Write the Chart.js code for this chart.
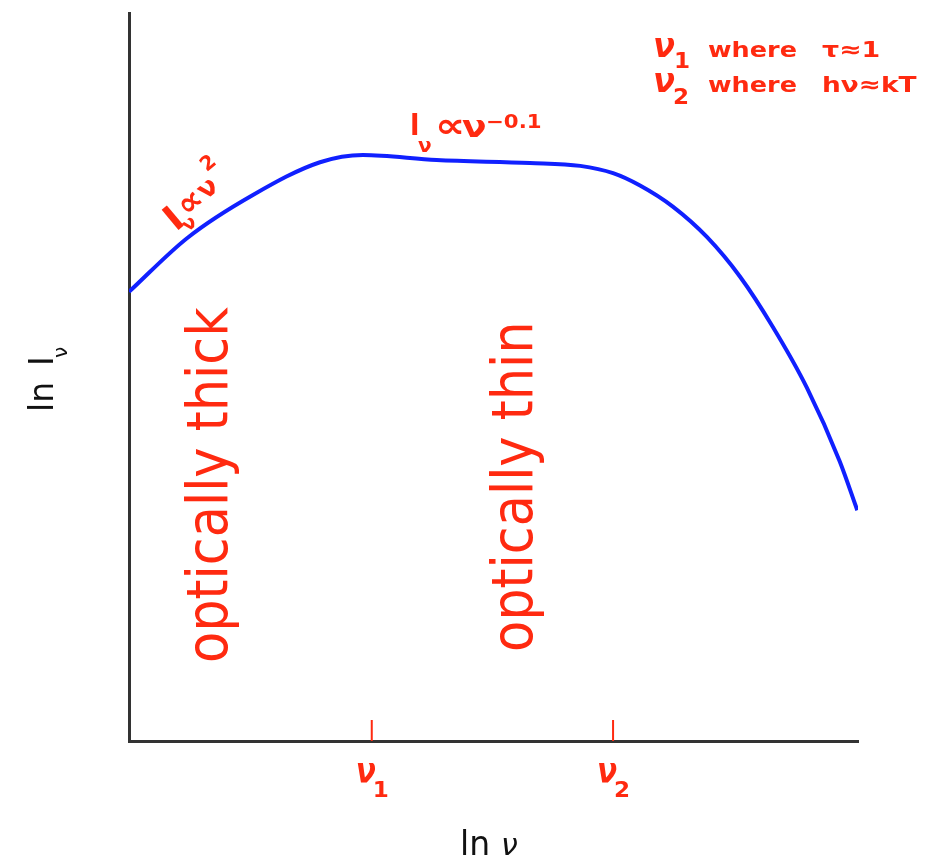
<!DOCTYPE html>
<html>
<head>
<meta charset="utf-8">
<script src="https://cdn.jsdelivr.net/npm/chart.js@4.4.1/dist/chart.umd.min.js"></script>
<style>
  html, body { margin: 0; padding: 0; background: #fff; }
  #wrap { width: 944px; height: 858px; }
</style>
</head>
<body>
<div id="wrap"><canvas id="spectrum" width="944" height="858"></canvas></div>
<script>
// ln(nu) positions and ln(I_nu) values of the spectrum curve
const lnNu = [0, 0.80, 1.70, 2.62, 3.21, 4.22, 5.50, 6.19, 6.64, 7.01, 7.46, 7.93, 8.38, 8.83, 9.30, 9.75, 9.99];
const lnI  = [6.17, 6.91, 7.50, 7.95, 8.05, 7.98, 7.94, 7.90, 7.80, 7.63, 7.34, 6.92, 6.38, 5.69, 4.85, 3.84, 3.17];

// marked frequencies on the x axis and their subscripts
const nuTicks = [3.33, 6.64];
const nuTickSubs = ['1', '2'];

const RED = '#ff2a10';
const AXIS = '#333333';

// draws text with an optional horizontal stretch and rotation
function putText(ctx, text, x, y, font, opts) {
  opts = opts || {};
  ctx.save();
  ctx.translate(x, y);
  ctx.scale(opts.sx || 1, 1);
  if (opts.angle) ctx.rotate(opts.angle);
  ctx.font = font;
  ctx.fillStyle = opts.color || RED;
  ctx.textAlign = opts.align || 'left';
  ctx.textBaseline = 'alphabetic';
  ctx.fillText(text, opts.dx || 0, opts.dy || 0);
  ctx.restore();
}

const annotations = {
  id: 'annotations',
  afterDraw(chart) {
    const ctx = chart.ctx;
    const xs = chart.scales.x;
    const ys = chart.scales.y;
    const bottom = ys.getPixelForValue(0);

    // nu_1 and nu_2 tick marks and labels
    nuTicks.forEach((v, i) => {
      const px = xs.getPixelForValue(v);
      ctx.save();
      ctx.strokeStyle = RED;
      ctx.lineWidth = 2;
      ctx.beginPath();
      ctx.moveTo(px, bottom - 21);
      ctx.lineTo(px, bottom);
      ctx.stroke();
      ctx.restore();
      putText(ctx, 'ν', px - 16, bottom + 42, 'bold oblique 36px "DejaVu Sans"', { sx: 0.82 });
      putText(ctx, nuTickSubs[i], px + 1, bottom + 56, 'bold 22px "DejaVu Sans"', { sx: 1.05 });
    });

    // axis titles
    putText(ctx, 'ln', 460, 855, '33px "DejaVu Sans"', { color: '#111' });
    putText(ctx, 'ν', 501, 855, 'oblique 30px "DejaVu Sans"', { color: '#111' });
    const up = -Math.PI / 2;
    putText(ctx, 'ln', 53, 412, '33px "DejaVu Sans"', { color: '#111', angle: up });
    putText(ctx, 'I', 53, 412, '33px "DejaVu Sans"', { color: '#111', angle: up, dx: 46 });
    putText(ctx, 'ν', 53, 412, '20px "DejaVu Sans"', { color: '#111', angle: up, dx: 54, dy: 14 });

    // region labels
    putText(ctx, 'optically thick', 227, 663, '51px "DejaVu Sans"', { sx: 1.12, angle: up });
    putText(ctx, 'optically thin', 532, 652, '51px "DejaVu Sans"', { sx: 1.12, angle: up });

    // legend of the two frequencies
    const small = 'bold 22px "DejaVu Sans"';
    const greek = 'bold oblique 34px "DejaVu Sans"';
    putText(ctx, 'ν', 653, 57, greek, { sx: 0.95 });
    putText(ctx, '1', 674, 68, small, { sx: 1.05 });
    putText(ctx, 'where', 708, 57, small, { sx: 1.16 });
    putText(ctx, 'τ≈1', 822, 57, small, { sx: 1.22 });
    putText(ctx, 'ν', 653, 92, greek, { sx: 0.95 });
    putText(ctx, '2', 673, 104, small, { sx: 1.05 });
    putText(ctx, 'where', 708, 92, small, { sx: 1.16 });
    putText(ctx, 'hν≈kT', 822, 92, small, { sx: 1.2 });

    // power-law slopes
    putText(ctx, 'I', 410, 135, 'bold 30px "DejaVu Sans"', { sx: 0.85 });
    putText(ctx, 'ν', 418, 152, 'bold 20px "DejaVu Sans"');
    putText(ctx, '∝', 435, 137, 'bold 34px "DejaVu Sans"', { sx: 1.25 });
    putText(ctx, 'ν', 462, 137, 'bold 30px "DejaVu Sans"', { sx: 1.2 });
    putText(ctx, '−0.1', 486, 128, 'bold 19px "DejaVu Sans"', { sx: 1.12 });

    const tilt = -40 * Math.PI / 180;
    const ox = 176, oy = 232;
    putText(ctx, 'I', ox, oy, 'bold 36px "DejaVu Sans"', { angle: tilt });
    putText(ctx, 'ν', ox, oy, 'bold 19px "DejaVu Sans"', { angle: tilt, dx: 9, dy: 8 });
    putText(ctx, '∝', ox, oy, 'bold 34px "DejaVu Sans"', { angle: tilt, dx: 18, dy: -3 });
    putText(ctx, 'ν', ox, oy, 'bold 27px "DejaVu Sans"', { angle: tilt, dx: 43, dy: -5 });
    putText(ctx, '2', ox, oy, 'bold 20px "DejaVu Sans"', { angle: tilt, dx: 62, dy: -26 });
  }
};

new Chart(document.getElementById('spectrum'), {
  type: 'line',
  data: {
    datasets: [{
      data: lnNu.map((x, i) => ({ x: x, y: lnI[i] })),
      borderColor: '#1020ff',
      borderWidth: 4,
      pointRadius: 0,
      fill: false,
      cubicInterpolationMode: 'monotone'
    }]
  },
  options: {
    responsive: false,
    animation: false,
    devicePixelRatio: 1,
    layout: { padding: { left: 129, right: 86, top: 13, bottom: 117 } },
    plugins: { legend: { display: false }, tooltip: { enabled: false } },
    scales: {
      x: {
        type: 'linear', min: 0, max: 10,
        ticks: { display: false },
        grid: { display: false, drawTicks: false },
        border: { display: true, color: AXIS, width: 3 }
      },
      y: {
        type: 'linear', min: 0, max: 10,
        ticks: { display: false },
        grid: { display: false, drawTicks: false },
        border: { display: true, color: AXIS, width: 3 }
      }
    }
  },
  plugins: [annotations]
});
</script>
</body>
</html>
